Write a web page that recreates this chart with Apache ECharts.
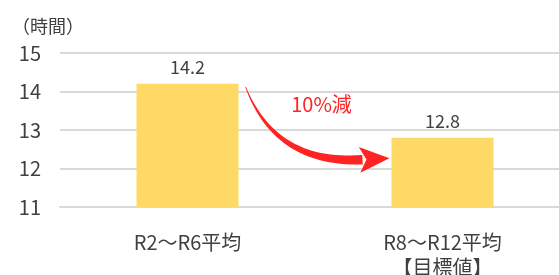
<!DOCTYPE html>
<html>
<head>
<meta charset="utf-8">
<script src="https://cdn.jsdelivr.net/npm/echarts@6/dist/echarts.min.js"></script>
<style>
    html, body {margin: 0; padding: 0; background: #fff;}
    #main {width: 559px; height: 275px;}
</style>
</head>
<body>
<div id="main"></div>
<script>
    var categories = ['R2～R6平均', 'R8～R12平均\n【目標値】'];
    var hours = [14.2, 12.8];
    var yTicks = [11, 12, 13, 14, 15];
    var cutLabel = '10%減';

    var font = '"Noto Sans CJK JP", "Noto Sans", sans-serif';
    var e = echarts.init(document.getElementById('main'));

    var option = {
        animation: false,
        title: {
            text: '（時間）', left: 7, top: 12,
            textStyle: {fontFamily: font, fontSize: 18, fontWeight: 'normal', color: '#404040'}
        },
        grid: {left: 60, top: 53, bottom: 68, width: 510, outerBoundsMode: 'none', containLabel: false},
        xAxis: {
            type: 'category',
            data: categories,
            axisLine: {lineStyle: {color: '#d9d9d9', width: 2}},
            axisTick: {show: false},
            axisLabel: {fontFamily: font, fontSize: 20, color: '#404040', margin: 23, lineHeight: 25}
        },
        yAxis: {
            type: 'value',
            min: yTicks[0],
            max: yTicks[yTicks.length - 1],
            interval: 1,
            axisLine: {show: false},
            axisTick: {show: false},
            splitLine: {lineStyle: {color: '#d9d9d9', width: 2}},
            axisLabel: {fontFamily: font, fontSize: 20, color: '#404040', margin: 19}
        },
        series: [{
            type: 'bar',
            data: hours,
            barWidth: '40%',
            itemStyle: {color: '#FFD966'},
            label: {
                show: true, position: 'top', distance: 8,
                fontFamily: font, fontSize: 18, color: '#404040'
            }
        }]
    };
    e.setOption(option);

    // curved red arrow between the two bars, anchored on the bar tops
    function px(i, v) {
        return e.convertToPixel({seriesIndex: 0}, [i, v]);
    }
    var a = px(0, hours[0]);
    var b = px(1, hours[1]);
    var p0 = [a[0] + 58, a[1] + 3];
    var p2 = [b[0] - 80, b[1] + 22];
    var c = [p0[0] + 30, p2[1] + 5];

    function bez(t) {
        var u = 1 - t;
        return [u * u * p0[0] + 2 * u * t * c[0] + t * t * p2[0],
            u * u * p0[1] + 2 * u * t * c[1] + t * t * p2[1]];
    }
    function tan(t) {
        var dx = 2 * (1 - t) * (c[0] - p0[0]) + 2 * t * (p2[0] - c[0]);
        var dy = 2 * (1 - t) * (c[1] - p0[1]) + 2 * t * (p2[1] - c[1]);
        var l = Math.sqrt(dx * dx + dy * dy);
        return [dx / l, dy / l];
    }
    var left = [], right = [];
    for (var k = 0; k <= 30; k++) {
        var t = k / 30;
        var p = bez(t);
        var d = tan(t);
        var w = 0.4 + 4.4 * t;
        left.push([p[0] - d[1] * w, p[1] + d[0] * w]);
        right.push([p[0] + d[1] * w, p[1] - d[0] * w]);
    }
    var body = left.concat(right.reverse());
    var d1 = tan(1);
    var head = [
        [p2[0] + d1[1] * 13 - d1[0] * 3, p2[1] - d1[0] * 13 - d1[1] * 3],
        [p2[0] + d1[0] * 27, p2[1] + d1[1] * 27],
        [p2[0] - d1[1] * 13 - d1[0] * 3, p2[1] + d1[0] * 13 - d1[1] * 3],
        [p2[0] + d1[0] * 4, p2[1] + d1[1] * 4]
    ];

    e.setOption({
        graphic: [
            {type: 'polygon', shape: {points: body}, style: {fill: '#FF2323'}, silent: true},
            {type: 'polygon', shape: {points: head}, style: {fill: '#FF2323'}, silent: true},
            {
                type: 'text', x: a[0] + 134, y: a[1] + 21, silent: true,
                style: {
                    text: cutLabel, fill: '#FF2323', font: '20px ' + font,
                    align: 'center', verticalAlign: 'middle'
                }
            }
        ]
    });
</script>
</body>
</html>
